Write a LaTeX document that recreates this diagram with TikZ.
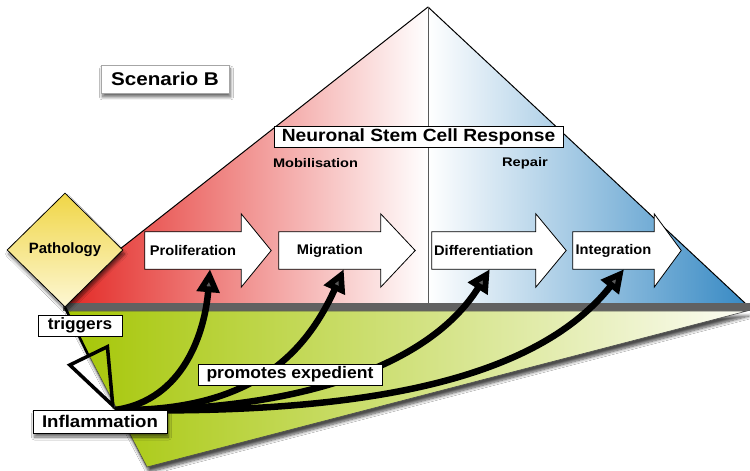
\documentclass[tikz,border=0pt]{standalone}
\usepackage{fontspec}
\setmainfont{Liberation Sans}
\usepackage{graphicx}
\usetikzlibrary{calc,arrows.meta,shapes.geometric,shadows.blur}
\definecolor{redA}{RGB}{226,32,28}
\definecolor{redB}{RGB}{240,112,108}
\definecolor{blueA}{RGB}{56,138,196}
\definecolor{blueB}{RGB}{165,200,228}
\definecolor{greenA}{RGB}{165,198,5}
\definecolor{greenB}{RGB}{210,227,110}
\definecolor{greenC}{RGB}{252,252,244}
\definecolor{yelA}{RGB}{240,214,70}
\definecolor{yelB}{RGB}{253,247,212}
\newcommand{\txt}[3]{{\fontsize{#1}{#1}\selectfont\bfseries\scalebox{#2}[1]{#3}}}
\newcommand{\blockarrow}[2]{%
  \draw[barrow] (#1.north west) -- (#1.north east) -- ($(#1.north east)+(0,-18)$)
    -- ($(#1.east)+(#2,0)$) -- ($(#1.south east)+(0,18)$) -- (#1.south east)
    -- (#1.south west) -- cycle;}
\tikzset{
  tbox/.style={draw=black, line width=0.8bp, fill=white, inner sep=0pt},
  shaft/.style={minimum height=37bp, inner sep=0pt},
  barrow/.style={draw=black, line width=0.8bp, fill=white},
  curv/.style={line width=6.5bp, -{Triangle[length=23bp,width=22bp]}},
  shad/.style={blur shadow={shadow xshift=1.5bp, shadow yshift=-4bp, shadow blur radius=3bp, shadow blur steps=8, shadow opacity=60}},
}
\begin{document}
\begin{tikzpicture}[x=1bp,y=-1bp,line join=miter]
\useasboundingbox (0,0) rectangle (750,471);
\fill[white] (0,0) rectangle (750,471);

% pyramid
\begin{scope}
\clip (64,0) rectangle (750,471);
\shade[left color=redA, middle color=redB, right color=white] (50,304) -- (428,7) -- (428,304) -- cycle;
\draw[line width=1bp] (50,304) -- (428,7);
\end{scope}
\shade[left color=white, middle color=blueB, right color=blueA] (428,7) -- (746,304) -- (428,304) -- cycle;
\draw[line width=1bp] (428,7) -- (746,304);
\draw[black!65, line width=1bp] (428,7) -- (428,304);
\fill[black!62] (63,303) rectangle (750,311);

% ground
\path[blur shadow={shadow xshift=2bp, shadow yshift=-5bp, shadow blur radius=3bp, shadow blur steps=8, shadow opacity=70},
  left color=greenA, middle color=greenB, right color=greenC, draw=black!70, line width=0.6bp]
  (66,311) -- (747,311) -- (147,467) -- cycle;

% block arrows
\node[shaft, minimum width=96bp] (prolif) at (193,250.5) {};
\node[shaft, minimum width=101.5bp] (migr) at (329.75,250.5) {};
\node[shaft, minimum width=103.6bp] (diff) at (483.8,250.5) {};
\node[shaft, minimum width=81bp] (integ) at (613.5,250.5) {};
\blockarrow{prolif}{30}
\blockarrow{migr}{34.5}
\blockarrow{diff}{30.4}
\blockarrow{integ}{27}
\node (prolifL) at (prolif) {\txt{14}{1.05}{Proliferation}};
\node (migrL) at (migr) {\txt{14}{1.05}{Migration}};
\node (diffL) at (diff) {\txt{14}{1.05}{Differentiation}};
\node (integL) at (integ) {\txt{14}{1.05}{Integration}};

% pathology
\node[diamond, draw=black, line width=0.8bp, top color=yelA, bottom color=yelB, minimum width=116bp, minimum height=114bp, inner sep=0pt, shad] (path) at (65,250) {\txt{15}{1}{Pathology}};

% triggers
\coordinate (src) at (115,410);
\draw[line width=2.5bp, -{Triangle[open, length=62bp, width=46bp, line width=3.5bp]}] (path.south) -- (src);

% promotes
\draw[curv] (src) .. controls (185,400) and (205,330) .. ($(prolif.south)+(17,0)$);
\draw[curv] (src) .. controls (250,412) and (305,355) .. ($(migr.south)+(14,0)$);
\draw[curv] (src) .. controls (300,412) and (430,365) .. ($(diff.south)+(6,0)$);
\draw[curv] (src) .. controls (380,415) and (540,375) .. ($(integ.south)+(10.5,0)$);

% labels
\node[tbox, draw=black!35, minimum width=128bp, minimum height=28bp, shad] (scen) at (165,79) {\txt{18.5}{1.12}{Scenario B}};
\node[tbox, minimum width=289bp, minimum height=21bp] (nscr) at (418.5,136.5) {\txt{17.7}{1.09}{Neuronal Stem Cell Response}};
\node[inner sep=0pt] (mob) at (315.5,163) {\txt{12.5}{1.17}{Mobilisation}};
\node[inner sep=0pt] (rep) at (525,163) {\txt{12.5}{1.18}{Repair}};
\node[tbox, minimum width=84bp, minimum height=21bp] (trig) at (80,325.5) {\txt{16.5}{1.05}{triggers}};
\node[tbox, minimum width=184bp, minimum height=21bp] (prom) at (290,374.5) {\txt{16.8}{1.05}{promotes expedient}};
\node[tbox, minimum width=134bp, minimum height=23bp, shad] (infl) at (100,421.5) {\txt{17}{1.1}{Inflammation}};
\end{tikzpicture}
\end{document}
